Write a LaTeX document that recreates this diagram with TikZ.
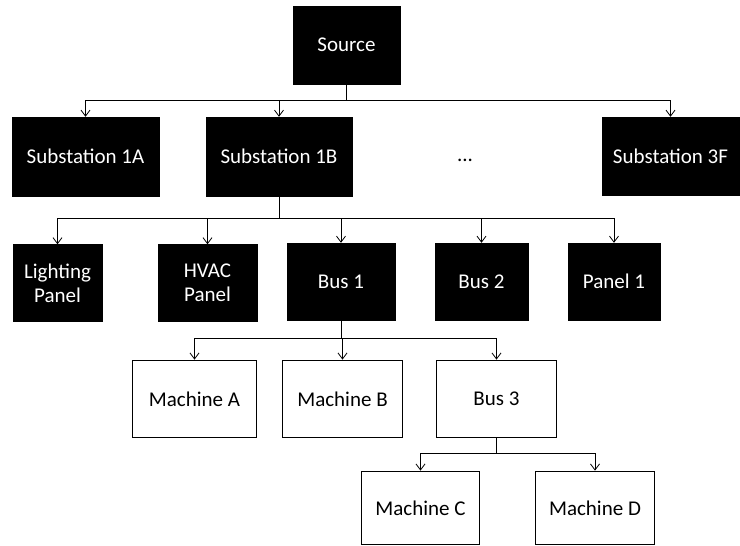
\documentclass[tikz,border=0pt]{standalone}
\usepackage{fontspec}
\setmainfont{Carlito}
\usetikzlibrary{arrows.meta}
\begin{document}
\begin{tikzpicture}[x=1pt,y=-1pt,
  dark/.style={fill=black,draw=black,text=white,inner sep=0pt,align=center,font=\fontsize{21}{24}\selectfont},
  light/.style={fill=white,draw=black,line width=1.8pt,text=black,inner sep=0pt,align=center,font=\fontsize{21}{24}\selectfont},
  arr/.style={draw=black,line width=0.8pt,-{Straight Barb[length=6pt,width=9pt]}}]
\useasboundingbox (0,0) rectangle (740,546);
% level 1
\node[dark,minimum width=107pt,minimum height=78pt] (src) at (346.5,45) {Source};
% level 2
\node[dark,minimum width=147pt,minimum height=79pt] (s1a) at (85.5,156.5) {Substation 1A};
\node[dark,minimum width=146pt,minimum height=79pt] (s1b) at (279,156.5) {Substation 1B};
\node[dark,minimum width=137pt,minimum height=78pt] (s3f) at (670.5,156) {Substation 3F};
\node[font=\fontsize{21}{24}\selectfont,inner sep=0pt] (dots) at (465,160) {...};
% level 3
\node[dark,minimum width=89pt,minimum height=77pt] (lp) at (57.5,283) {Lighting\\Panel};
\node[dark,minimum width=99pt,minimum height=77pt] (hp) at (207.5,283) {HVAC\\Panel};
\node[dark,minimum width=108pt,minimum height=77pt] (b1) at (341,281.5) {Bus 1};
\node[dark,minimum width=93pt,minimum height=77pt] (b2) at (481.5,281.5) {Bus 2};
\node[dark,minimum width=92pt,minimum height=77pt] (p1) at (614,281.5) {Panel 1};
% level 4
\node[light,minimum width=124pt,minimum height=77pt] (ma) at (194.5,399) {Machine A};
\node[light,minimum width=120pt,minimum height=77pt] (mb) at (342.5,399) {Machine B};
\node[light,minimum width=120pt,minimum height=77pt] (b3) at (496.5,399) {Bus 3};
% level 5
\node[light,minimum width=118pt,minimum height=73pt] (mc) at (420.5,508) {Machine C};
\node[light,minimum width=119pt,minimum height=73pt] (md) at (595,508) {Machine D};
% connectors
\coordinate (j1) at ([yshift=-16pt]src.south);
\draw[line width=0.8pt] (src.south) -- (j1);
\foreach \n in {s1a,s1b,s3f} \draw[arr] (j1) -| (\n.north);
\coordinate (j2) at ([yshift=-22pt]s1b.south);
\draw[line width=0.8pt] (s1b.south) -- (j2);
\foreach \n in {lp,hp,b1,b2,p1} \draw[arr] (j2) -| (\n.north);
\coordinate (j3) at ([yshift=-18pt]b1.south);
\draw[line width=0.8pt] (b1.south) -- (j3);
\foreach \n in {ma,mb,b3} \draw[arr] (j3) -| (\n.north);
\coordinate (j4) at ([yshift=-15pt]b3.south);
\draw[line width=0.8pt] (b3.south) -- (j4);
\foreach \n in {mc,md} \draw[arr] (j4) -| (\n.north);
\end{tikzpicture}
\end{document}
